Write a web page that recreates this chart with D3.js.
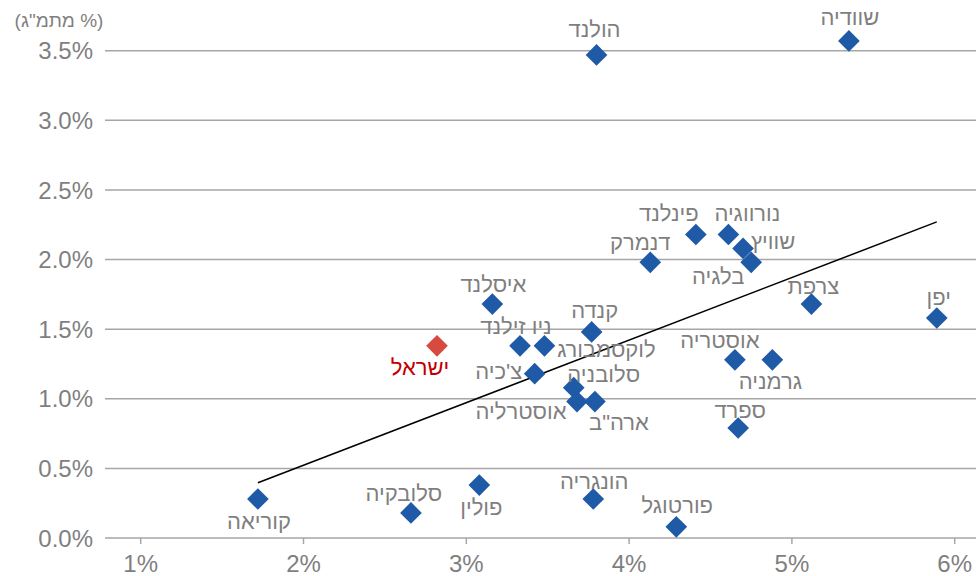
<!DOCTYPE html>
<html>
<head>
<meta charset="utf-8">
<script src="https://cdn.jsdelivr.net/npm/d3@7"></script>
<style>
  body { margin: 0; background: #fff; }
  svg text { font-family: Arial, "Liberation Sans", sans-serif; }
</style>
</head>
<body>
<div id="chart"></div>
<script>
// x: growth-related %, y: % of GDP
const countries = [
  'הולנד', 'שוודיה', 'פינלנד', 'נורווגיה', 'שוויץ', 'דנמרק', 'בלגיה', 'צרפת', 'יפן',
  'איסלנד', 'קנדה', 'ניו זילנד', 'לוקסמבורג', 'צ\'כיה', 'סלובניה', 'אוסטרליה', 'ארה"ב',
  'אוסטריה', 'גרמניה', 'ספרד', 'ישראל', 'קוריאה', 'סלובקיה', 'פולין', 'הונגריה', 'פורטוגל'
]
const xValues = [
  3.80, 5.35, 4.41, 4.61, 4.70, 4.13, 4.75, 5.12, 5.89,
  3.16, 3.77, 3.33, 3.48, 3.42, 3.66, 3.68, 3.79,
  4.65, 4.88, 4.67, 2.82, 1.72, 2.66, 3.08, 3.78, 4.29
]
const yValues = [
  3.47, 3.57, 2.18, 2.18, 2.08, 1.98, 1.98, 1.68, 1.58,
  1.68, 1.48, 1.38, 1.38, 1.18, 1.08, 0.98, 0.98,
  1.28, 1.28, 0.79, 1.38, 0.28, 0.18, 0.38, 0.28, 0.08
]
const highlight = 'ישראל'

const yTicks = [0, 0.5, 1, 1.5, 2, 2.5, 3, 3.5]
const xTicks = [1, 2, 3, 4, 5, 6]
const yTitle = '(מתמ"ג %)'

// label placement relative to each marker (dx, dy of text centre)
const labelOffsets = {
  'הולנד': [-2, -26], 'שוודיה': [1, -24], 'פינלנד': [-27, -21], 'נורווגיה': [19, -21],
  'שוויץ': [30, -7], 'דנמרק': [-10, -20], 'בלגיה': [-33, 14], 'צרפת': [2, -18],
  'יפן': [2, -21], 'איסלנד': [1, -20], 'קנדה': [3, -22], 'ניו זילנד': [-4, -20],
  'לוקסמבורג': [62, 3], 'צ\'כיה': [-36, -3], 'סלובניה': [30, -14], 'אוסטרליה': [-56, 10],
  'ארה"ב': [24, 21], 'אוסטריה': [-15, -20], 'גרמניה': [-2, 21], 'ספרד': [2, -18],
  'ישראל': [-17, 21], 'קוריאה': [1, 22], 'סלובקיה': [-7, -20], 'פולין': [2, 22],
  'הונגריה': [1, -18], 'פורטוגל': [1, -22]
}

const width = 976
const height = 576
const gridLeft = 105
const gray = '#7f7f7f'

const data = countries.map((c, i) => ({name: c, x: xValues[i], y: yValues[i]}))

const x = d3.scaleLinear().domain([1, 6]).range([140.7, 954.7])
const y = d3.scaleLinear().domain([0, 3.5]).range([538, 50.7])

const svg = d3.select('#chart')
  .append('svg')
  .attr('width', width)
  .attr('height', height)

// horizontal grid
svg.append('g')
  .selectAll('line')
  .data(yTicks)
  .join('line')
  .attr('x1', gridLeft)
  .attr('x2', width)
  .attr('y1', d => y(d))
  .attr('y2', d => y(d))
  .attr('stroke', '#a6a6a6')
  .attr('stroke-width', 1.5)

// y tick labels
svg.append('g')
  .selectAll('text')
  .data(yTicks)
  .join('text')
  .attr('x', 93)
  .attr('y', d => y(d))
  .attr('dy', '0.36em')
  .attr('text-anchor', 'end')
  .attr('font-size', 24)
  .attr('fill', gray)
  .text(d => d3.format('.1%')(d / 100))

// x axis ticks
const xg = svg.append('g')
xg.selectAll('line')
  .data(xTicks)
  .join('line')
  .attr('x1', d => x(d))
  .attr('x2', d => x(d))
  .attr('y1', y(0))
  .attr('y2', y(0) + 6)
  .attr('stroke', '#a6a6a6')
  .attr('stroke-width', 1.5)
xg.selectAll('text')
  .data(xTicks)
  .join('text')
  .attr('x', d => x(d))
  .attr('y', 563)
  .attr('dy', '0.36em')
  .attr('text-anchor', 'middle')
  .attr('font-size', 24)
  .attr('fill', gray)
  .text(d => d + '%')

svg.append('text')
  .attr('x', 59)
  .attr('y', 20)
  .attr('dy', '0.36em')
  .attr('text-anchor', 'middle')
  .attr('font-size', 19)
  .attr('fill', gray)
  .text(yTitle)

// linear trend line (least squares over all points)
const mx = d3.mean(data, d => d.x)
const my = d3.mean(data, d => d.y)
const slope = d3.sum(data, d => (d.x - mx) * (d.y - my)) / d3.sum(data, d => (d.x - mx) ** 2)
const [x0, x1] = d3.extent(data, d => d.x)
const line = d3.line().x(d => x(d[0])).y(d => y(d[1]))
svg.append('path')
  .attr('d', line([[x0, my + slope * (x0 - mx)], [x1, my + slope * (x1 - mx)]]))
  .attr('fill', 'none')
  .attr('stroke', '#000')
  .attr('stroke-width', 1.5)

// markers
const diamond = d3.symbol().type(d3.symbolSquare).size(235)
svg.append('g')
  .selectAll('path')
  .data(data)
  .join('path')
  .attr('d', diamond)
  .attr('transform', d => `translate(${x(d.x)},${y(d.y)}) rotate(45)`)
  .attr('fill', d => d.name === highlight ? '#d64a40' : '#1f5aa6')

// labels
svg.append('g')
  .selectAll('text')
  .data(data)
  .join('text')
  .attr('x', d => x(d.x) + labelOffsets[d.name][0])
  .attr('y', d => y(d.y) + labelOffsets[d.name][1])
  .attr('dy', '0.36em')
  .attr('text-anchor', 'middle')
  .attr('font-size', 22)
  .attr('fill', d => d.name === highlight ? '#c00000' : gray)
  .text(d => d.name)
</script>
</body>
</html>
